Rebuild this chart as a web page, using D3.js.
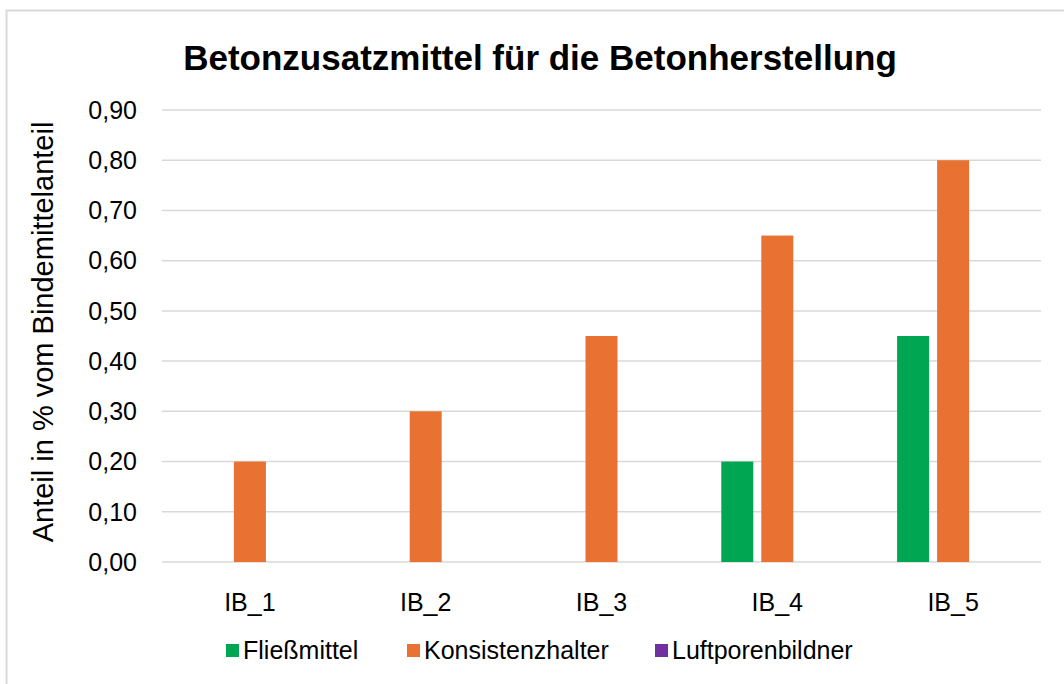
<!DOCTYPE html>
<html>
<head>
<meta charset="utf-8">
<script src="https://cdn.jsdelivr.net/npm/d3@7"></script>
<style>
  body { margin: 0; background: #fff; }
  text { font-family: "Liberation Sans", Arial, sans-serif; fill: #000; }
</style>
</head>
<body>
<svg id="chart" width="1064" height="684"></svg>
<script>
// data
var categories = ["IB_1", "IB_2", "IB_3", "IB_4", "IB_5"];
var seriesNames = ["Fließmittel", "Konsistenzhalter", "Luftporenbildner"];
var fliessmittel = [0, 0, 0, 0.20, 0.45];
var konsistenzhalter = [0.20, 0.30, 0.45, 0.65, 0.80];
var luftporenbildner = [0, 0, 0, 0, 0];
var yTicks = [0, 0.1, 0.2, 0.3, 0.4, 0.5, 0.6, 0.7, 0.8, 0.9];
var colors = ["#00a651", "#e97132", "#7030a0"];

var seriesValues = [fliessmittel, konsistenzhalter, luftporenbildner];

var svg = d3.select("#chart");

// chart frame
svg.append("rect")
    .attr("x", 6.5).attr("y", 10.5)
    .attr("width", 1080).attr("height", 700)
    .attr("fill", "#fff")
    .attr("stroke", "#d9d9d9")
    .attr("stroke-width", 2);

var plotLeft = 162, plotRight = 1041, plotTop = 110, plotBottom = 562;

var x0 = d3.scaleBand().domain(categories).range([plotLeft, plotRight]).padding(0);
var groupW = 112;
var x1 = d3.scaleBand().domain(seriesNames).range([0, groupW]).paddingInner(0.2);
var y = d3.scaleLinear().domain([0, 0.9]).range([plotBottom, plotTop]);

// title
svg.append("text")
    .attr("x", 540).attr("y", 70)
    .attr("text-anchor", "middle")
    .style("font-size", "35px")
    .style("font-weight", "bold")
    .text("Betonzusatzmittel für die Betonherstellung");

// gridlines
svg.append("g")
    .selectAll("line")
    .data(yTicks)
    .enter().append("line")
    .attr("x1", plotLeft).attr("x2", plotRight)
    .attr("y1", d => y(d)).attr("y2", d => y(d))
    .attr("stroke", "#d9d9d9")
    .attr("stroke-width", 1.5);

// y axis labels
var fmt = d => d3.format(".2f")(d).replace(".", ",");
svg.append("g")
    .selectAll("text")
    .data(yTicks)
    .enter().append("text")
    .attr("x", 137)
    .attr("y", d => y(d))
    .attr("dy", "0.35em")
    .attr("text-anchor", "end")
    .style("font-size", "25px")
    .text(fmt);

// y axis title
svg.append("text")
    .attr("transform", "translate(53,332) rotate(-90)")
    .attr("text-anchor", "middle")
    .style("font-size", "29px")
    .text("Anteil in % vom Bindemittelanteil");

// x labels
svg.append("g")
    .selectAll("text")
    .data(categories)
    .enter().append("text")
    .attr("x", d => x0(d) + x0.bandwidth() / 2)
    .attr("y", 602)
    .attr("dy", "0.35em")
    .attr("text-anchor", "middle")
    .style("font-size", "25px")
    .text(d => d);

// bars
var groups = svg.append("g")
    .selectAll("g")
    .data(categories)
    .enter().append("g")
    .attr("transform", d => "translate(" + (x0(d) + (x0.bandwidth() - groupW) / 2) + ",0)");

groups.selectAll("rect")
    .data((d, i) => seriesNames.map((s, j) => ({ s: s, v: seriesValues[j][i], c: colors[j] })))
    .enter().append("rect")
    .attr("x", d => x1(d.s))
    .attr("y", d => y(d.v))
    .attr("width", x1.bandwidth())
    .attr("height", d => y(0) - y(d.v))
    .attr("fill", d => d.c);

// legend
var legendX = [226, 407, 655];
var legend = svg.append("g")
    .selectAll("g")
    .data(seriesNames)
    .enter().append("g")
    .attr("transform", (d, i) => "translate(" + legendX[i] + ",650)");
legend.append("rect")
    .attr("x", 0).attr("y", -6)
    .attr("width", 13).attr("height", 13)
    .attr("fill", (d, i) => colors[i]);
legend.append("text")
    .attr("x", 17)
    .attr("dy", "0.35em")
    .style("font-size", "25px")
    .text(d => d);
</script>
</body>
</html>
